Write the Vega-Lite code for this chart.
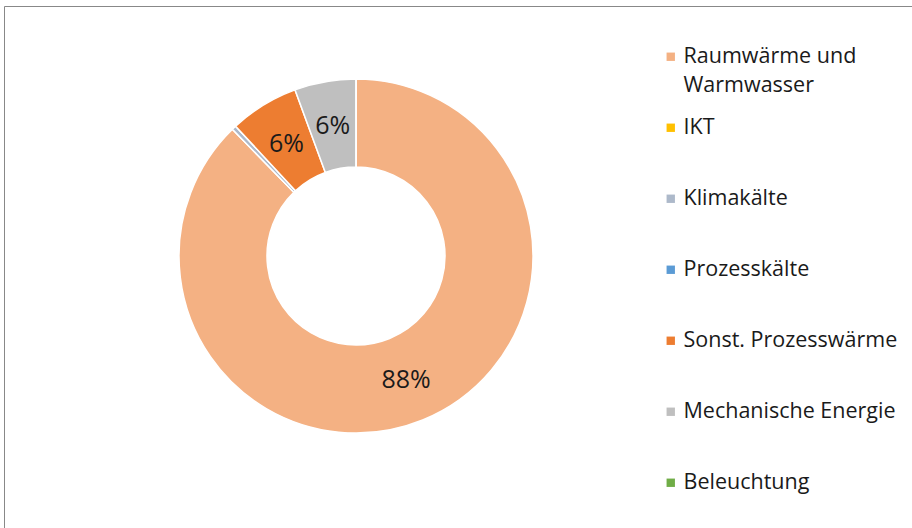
{
  "$schema": "https://vega.github.io/schema/vega-lite/v6.json",
  "width": 908,
  "height": 522,
  "autosize": {"type": "none"},
  "padding": {"left": 4, "top": 6, "right": 0, "bottom": 0},
  "background": "white",
  "view": {"stroke": "#888888", "strokeWidth": 1},
  "config": {
    "view": {"stroke": "#888888", "strokeWidth": 1},
    "font": "Open Sans",
    "style": {"guide-label": {"lineHeight": 29}}
  },
  "data": {
    "values": [
      {"idx": 0, "category": "Raumwärme und Warmwasser", "share": 0.877},
      {"idx": 1, "category": "IKT", "share": 0.0},
      {"idx": 2, "category": "Klimakälte", "share": 0.004},
      {"idx": 3, "category": "Prozesskälte", "share": 0.0},
      {"idx": 4, "category": "Sonst. Prozesswärme", "share": 0.063},
      {"idx": 5, "category": "Mechanische Energie", "share": 0.056},
      {"idx": 6, "category": "Beleuchtung", "share": 0.0}
    ]
  },
  "encoding": {
    "theta": {"field": "share", "type": "quantitative", "stack": true},
    "order": {"field": "idx", "type": "quantitative"},
    "color": {
      "field": "category",
      "type": "nominal",
      "scale": {
        "domain": ["Raumwärme und Warmwasser", "IKT", "Klimakälte", "Prozesskälte", "Sonst. Prozesswärme", "Mechanische Energie", "Beleuchtung"],
        "range": ["#F4B183", "#FFC000", "#ADB9CA", "#5B9BD5", "#ED7D31", "#BFBFBF", "#70AD47"]
      },
      "legend": {
        "title": null,
        "orient": "none",
        "legendX": 656,
        "legendY": 40,
        "padding": 0,
        "symbolType": "square",
        "symbolSize": 70,
        "symbolStrokeWidth": 0,
        "labelFont": "Open Sans",
        "labelFontSize": 21.5,
        "labelColor": "#1a1a1a",
        "labelOffset": 2,
        "labelLimit": 300,
        "rowPadding": 19,
        "labelExpr": "datum.label == 'Raumwärme und Warmwasser' ? ['Raumwärme und', 'Warmwasser'] : [datum.label, '']"
      }
    }
  },
  "layer": [
    {
      "mark": {"type": "arc", "outerRadius": 177, "innerRadius": 89, "x": 352, "y": 250, "stroke": "white", "strokeWidth": 1.5}
    },
    {
      "mark": {"type": "text", "radius": 133, "x": 352, "y": 251, "fontSize": 25, "font": "Open Sans"},
      "encoding": {
        "text": {"condition": {"test": "datum.share < 0.01", "value": ""}, "field": "share", "format": ".0%"},
        "color": {"value": "#1a1a1a"}
      }
    }
  ]
}
